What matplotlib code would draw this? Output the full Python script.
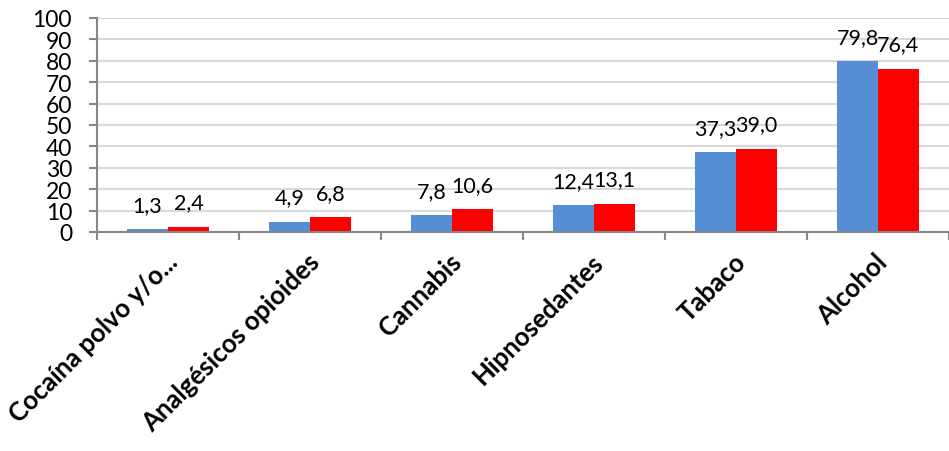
import matplotlib
matplotlib.use("Agg")
import matplotlib.pyplot as plt
import numpy as np

# data
categories = ["Cocaína polvo y/o...", "Analgésicos opioides", "Cannabis",
              "Hipnosedantes", "Tabaco", "Alcohol"]
serie_azul = [1.3, 4.9, 7.8, 12.4, 37.3, 79.8]
serie_roja = [2.4, 6.8, 10.6, 13.1, 39.0, 76.4]

plt.rcParams['font.family'] = ['Lato', 'DejaVu Sans']

fig = plt.figure(figsize=(9.49, 4.52), dpi=100)
ax = fig.add_axes([97 / 949, 1 - 233 / 452, (949 - 97) / 949, (233 - 19) / 452])

x = np.arange(len(categories))
w = 0.287
b1 = ax.bar(x - w / 2, serie_azul, w, color="#558ED5", zorder=2)
b2 = ax.bar(x + w / 2, serie_roja, w, color="#FF0000", zorder=2)

def fmt(v):
    return f"{v:.1f}".replace(".", ",")

for bars, vals in [(b1, serie_azul), (b2, serie_roja)]:
    for rect, v in zip(bars, vals):
        ax.annotate(fmt(v), (rect.get_x() + rect.get_width() / 2, v),
                    xytext=(0, 10.5), textcoords="offset points",
                    ha="center", va="bottom", fontsize=15.5, color="black")

ax.set_ylim(0, 100)
ax.set_yticks(np.arange(0, 101, 10))
ax.set_xlim(-0.5, -0.5 + (949 - 97) / 143)
ax.yaxis.grid(True, color="#D9D9D9", linewidth=1.5, zorder=0)
ax.set_axisbelow(True)

for s in ["top", "right"]:
    ax.spines[s].set_visible(False)
ax.spines["left"].set_color("#868686")
ax.spines["bottom"].set_color("#868686")
ax.spines["left"].set_linewidth(1.5)
ax.spines["bottom"].set_linewidth(1.5)

ax.tick_params(axis="y", length=6, width=1.5, color="#868686", labelsize=16.5, pad=12)
ax.set_xticks(np.arange(len(categories) + 1) - 0.5, minor=False)
ax.set_xticklabels([])
ax.tick_params(axis="x", which="major", length=6, width=1.5, color="#868686")
ax.set_xticks(x - 0.02, minor=True)
ax.set_xticklabels(categories, minor=True, rotation=45, ha="right",
                   rotation_mode="anchor", fontsize=18.5, fontweight="bold")
ax.tick_params(axis="x", which="minor", length=0, pad=12)

fig.savefig("out.png", dpi=100)
